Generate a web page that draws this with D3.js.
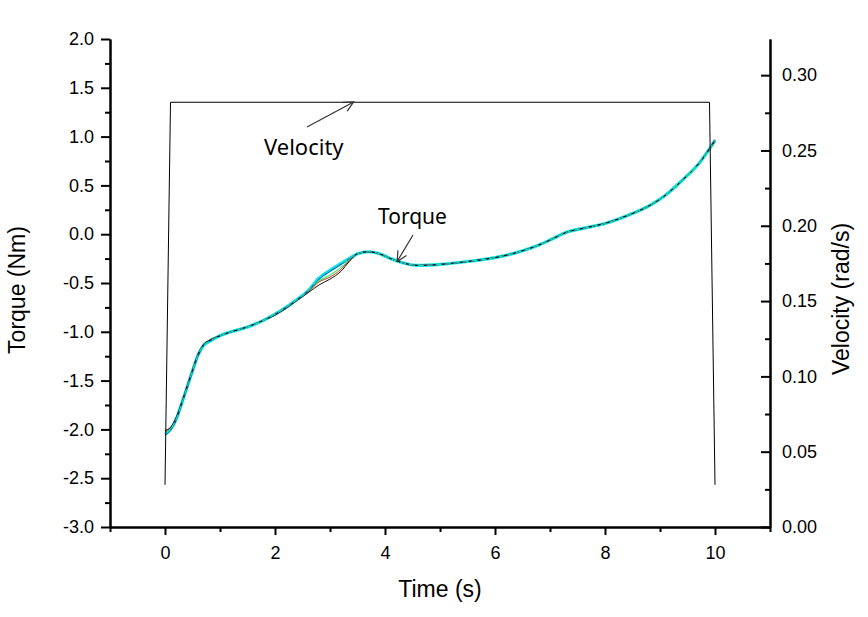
<!DOCTYPE html>
<html>
<head>
<meta charset="utf-8">
<script src="https://cdn.jsdelivr.net/npm/d3@7"></script>
<style>
  html, body { margin: 0; padding: 0; background: #fff; }
  svg { display: block; }
  .tick text { font-family: "Liberation Sans", Arial, sans-serif; font-size: 18px; fill: #000; }
</style>
</head>
<body>
<svg id="chart" width="868" height="617"></svg>
<script>
// ---------------- data ----------------
const time = [0, 0.1, 0.2, 0.3, 0.4, 0.5, 0.6, 0.7, 0.8, 1.0, 1.2, 1.5, 1.8, 2.0, 2.2, 2.4, 2.6, 2.8, 3.0, 3.2, 3.35, 3.5, 3.7, 3.9, 4.1, 4.3, 4.6, 5.0, 5.5, 6.0, 6.5, 6.8, 7.0, 7.3, 7.6, 8.0, 8.4, 8.8, 9.1, 9.4, 9.7, 10.0];
const torqueCyan  = [-2.05, -2.00, -1.90, -1.74, -1.57, -1.40, -1.24, -1.14, -1.10, -1.04, -1.00, -0.95, -0.88, -0.82, -0.75, -0.67, -0.58, -0.45, -0.37, -0.30, -0.25, -0.20, -0.18, -0.20, -0.25, -0.29, -0.32, -0.31, -0.28, -0.24, -0.17, -0.11, -0.06, 0.02, 0.06, 0.11, 0.19, 0.29, 0.40, 0.55, 0.72, 0.96];
const torqueBlue  = [-2.06, -2.01, -1.91, -1.75, -1.58, -1.41, -1.25, -1.14, -1.10, -1.04, -1.00, -0.95, -0.88, -0.82, -0.75, -0.67, -0.58, -0.46, -0.38, -0.31, -0.25, -0.20, -0.18, -0.20, -0.25, -0.29, -0.32, -0.31, -0.28, -0.24, -0.17, -0.11, -0.06, 0.02, 0.06, 0.11, 0.19, 0.29, 0.40, 0.55, 0.72, 0.97];
const torqueGreen = [-2.03, -1.99, -1.89, -1.73, -1.56, -1.39, -1.23, -1.13, -1.09, -1.04, -1.00, -0.95, -0.88, -0.82, -0.75, -0.67, -0.59, -0.48, -0.42, -0.34, -0.27, -0.20, -0.18, -0.20, -0.25, -0.29, -0.32, -0.31, -0.28, -0.24, -0.17, -0.11, -0.06, 0.02, 0.06, 0.11, 0.19, 0.29, 0.40, 0.55, 0.72, 0.95];
const torqueRed   = [-2.02, -1.98, -1.89, -1.73, -1.56, -1.39, -1.23, -1.13, -1.09, -1.04, -1.00, -0.95, -0.88, -0.82, -0.75, -0.67, -0.59, -0.49, -0.44, -0.36, -0.27, -0.20, -0.18, -0.20, -0.25, -0.29, -0.32, -0.31, -0.28, -0.24, -0.17, -0.11, -0.06, 0.02, 0.06, 0.11, 0.19, 0.29, 0.40, 0.55, 0.72, 0.95];
const torqueBlack = [-2.01, -1.98, -1.88, -1.73, -1.56, -1.39, -1.23, -1.13, -1.09, -1.04, -1.00, -0.95, -0.88, -0.83, -0.76, -0.68, -0.60, -0.52, -0.46, -0.38, -0.28, -0.20, -0.18, -0.20, -0.25, -0.29, -0.32, -0.31, -0.28, -0.24, -0.17, -0.11, -0.06, 0.02, 0.06, 0.11, 0.19, 0.29, 0.40, 0.55, 0.72, 0.96];

const velTime  = [0, 0.1, 9.9, 10.0];
const velocity = [0.028, 0.282, 0.282, 0.028];

const xTicks = [0, 2, 4, 6, 8, 10];
const xTickLabels = ["0", "2", "4", "6", "8", "10"];
const xMinor = [-1, 1, 3, 5, 7, 9, 11];
const yTicks = [2.0, 1.5, 1.0, 0.5, 0.0, -0.5, -1.0, -1.5, -2.0, -2.5, -3.0];
const yTickLabels = ["2.0", "1.5", "1.0", "0.5", "0.0", "-0.5", "-1.0", "-1.5", "-2.0", "-2.5", "-3.0"];
const yMinor = [1.75, 1.25, 0.75, 0.25, -0.25, -0.75, -1.25, -1.75, -2.25, -2.75];
const vTicks = [0.30, 0.25, 0.20, 0.15, 0.10, 0.05, 0.00];
const vTickLabels = ["0.30", "0.25", "0.20", "0.15", "0.10", "0.05", "0.00"];
const vMinor = [0.275, 0.225, 0.175, 0.125, 0.075, 0.025];

// ---------------- layout ----------------
const svg = d3.select("#chart");
const L = 110, R = 770, T = 39, B = 527;
const x = d3.scaleLinear().domain([-1, 11]).range([L, R]);
const y = d3.scaleLinear().domain([-3, 2]).range([B, T]);
const yv = d3.scaleLinear().domain([0, 0.324]).range([B, T]);

// ---------------- series ----------------
const torqueLine = d3.line().x(d => x(d[0])).y(d => y(d[1])).curve(d3.curveMonotoneX);
const series = [
  { v: torqueCyan,  color: "#00e8e0", w: 3.2 },
  { v: torqueGreen, color: "#33ee66", w: 1.2 },
  { v: torqueRed,   color: "#e03020", w: 1.0 },
  { v: torqueBlue,  color: "#1030e0", w: 1.0 },
  { v: torqueBlack, color: "#111111", w: 1.0 }
];
series.forEach(s => {
  svg.append("path")
    .datum(time.map((t, i) => [t, s.v[i]]))
    .attr("d", torqueLine)
    .attr("fill", "none")
    .attr("stroke", s.color)
    .attr("stroke-width", s.w)
    .attr("stroke-linejoin", "round");
});
// re-draw cyan thin on top to give teal look
svg.append("path")
  .datum(time.map((t, i) => [t, torqueCyan[i]]))
  .attr("d", torqueLine)
  .attr("fill", "none")
  .attr("stroke", "#20d8c0")
  .attr("stroke-width", 1.2)
  .attr("stroke-dasharray", "6,3");

const velLine = d3.line().x(d => x(d[0])).y(d => yv(d[1]));
svg.append("path")
  .datum(velTime.map((t, i) => [t, velocity[i]]))
  .attr("d", velLine)
  .attr("fill", "none")
  .attr("stroke", "#000")
  .attr("stroke-width", 1);

// ---------------- axes ----------------
function styleAxis(g) {
  g.select(".domain").attr("stroke", "#000").attr("stroke-width", 2);
  g.selectAll(".tick line").attr("stroke", "#000").attr("stroke-width", 2);
}

// x axis
svg.append("g").attr("transform", `translate(0,${B})`)
  .call(d3.axisBottom(x).tickValues(xMinor).tickSize(5).tickFormat("").tickSizeOuter(0))
  .call(styleAxis);
svg.append("g").attr("transform", `translate(0,${B})`)
  .call(d3.axisBottom(x).tickValues(xTicks).tickSize(8).tickPadding(11).tickSizeOuter(0)
    .tickFormat((d, i) => xTickLabels[i]))
  .call(styleAxis);

// left axis
svg.append("g").attr("transform", `translate(${L},0)`)
  .call(d3.axisLeft(y).tickValues(yMinor).tickSize(5).tickFormat("").tickSizeOuter(0))
  .call(styleAxis);
svg.append("g").attr("transform", `translate(${L},0)`)
  .call(d3.axisLeft(y).tickValues(yTicks).tickSize(9).tickPadding(7).tickSizeOuter(0)
    .tickFormat((d, i) => yTickLabels[i]))
  .call(styleAxis);

// right axis (ticks inward)
svg.append("g").attr("transform", `translate(${R},0)`)
  .call(d3.axisRight(yv).tickValues(vMinor).tickSize(-5).tickFormat("").tickSizeOuter(0))
  .call(styleAxis);
svg.append("g").attr("transform", `translate(${R},0)`)
  .call(d3.axisRight(yv).tickValues(vTicks).tickSize(-9).tickPadding(12).tickSizeOuter(0)
    .tickFormat((d, i) => vTickLabels[i]))
  .call(styleAxis);

// ---------------- titles ----------------
const titleFont = "'Liberation Sans', Arial, sans-serif";
svg.append("text")
  .attr("x", 440).attr("y", 597)
  .attr("text-anchor", "middle")
  .style("font-family", titleFont).style("font-size", "23px")
  .text("Time (s)");
svg.append("text")
  .attr("transform", "translate(25,290) rotate(-90)")
  .attr("text-anchor", "middle")
  .style("font-family", titleFont).style("font-size", "23px")
  .text("Torque (Nm)");
svg.append("text")
  .attr("transform", "translate(849,299) rotate(-90)")
  .attr("text-anchor", "middle")
  .style("font-family", titleFont).style("font-size", "23px")
  .text("Velocity (rad/s)");

// ---------------- annotations ----------------
const defs = svg.append("defs");
defs.append("marker")
  .attr("id", "arr").attr("viewBox", "0 0 12 12")
  .attr("refX", 11).attr("refY", 6)
  .attr("markerWidth", 12).attr("markerHeight", 12)
  .attr("markerUnits", "userSpaceOnUse")
  .attr("orient", "auto")
  .append("path").attr("d", "M1,1 L11,6 L1,11")
  .attr("fill", "none").attr("stroke", "#333").attr("stroke-width", 1.2);

const annFont = "'Noto Sans', 'Open Sans', sans-serif";
svg.append("text").attr("x", 264).attr("y", 155)
  .style("font-family", annFont).style("font-size", "22px")
  .text("Velocity");
svg.append("line")
  .attr("x1", 307).attr("y1", 127).attr("x2", x(3.43)).attr("y2", yv(0.2822))
  .attr("stroke", "#333").attr("stroke-width", 1.2).attr("marker-end", "url(#arr)");

svg.append("text").attr("x", 378).attr("y", 224)
  .style("font-family", annFont).style("font-size", "21px")
  .text("Torque");
svg.append("line")
  .attr("x1", 413).attr("y1", 235).attr("x2", x(4.22)).attr("y2", y(-0.28))
  .attr("stroke", "#333").attr("stroke-width", 1.2).attr("marker-end", "url(#arr)");
</script>
</body>
</html>
